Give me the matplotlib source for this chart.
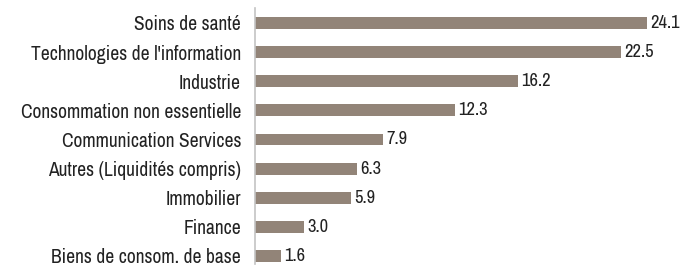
import matplotlib.pyplot as plt
from matplotlib import font_manager

sectors = ["Soins de santé", "Technologies de l'information", "Industrie",
           "Consommation non essentielle", "Communication Services",
           "Autres (Liquidités compris)", "Immobilier", "Finance",
           "Biens de consom. de base"]
weights = [24.1, 22.5, 16.2, 12.3, 7.9, 6.3, 5.9, 3.0, 1.6]

# the reference uses a condensed grotesque; take a narrow face if one exists
names = sorted({f.name for f in font_manager.fontManager.ttflist})
narrow = [n for n in names if "Narrow" in n or "Condensed" in n]
family = narrow[0] if narrow else "Liberation Sans"
plt.rcParams["font.family"] = [family, "DejaVu Sans"]

bar_color = "#928478"
text_color = "#222222"

fig = plt.figure(figsize=(6.82, 2.66), dpi=100)
ax = fig.add_axes([255 / 682, 2 / 266, 427 / 682, 256 / 266])

pos = list(range(len(sectors)))
ax.barh(pos, weights, height=0.41, color=bar_color)

ax.set_xlim(0, 427 / 16.25)
ax.set_ylim(8.275, -0.515)
ax.set_yticks(pos)
ax.set_yticklabels(sectors, fontsize=13, color=text_color)
ax.tick_params(axis="y", length=0, pad=10)
ax.set_xticks([])
for side in ["top", "right", "bottom"]:
    ax.spines[side].set_visible(False)
ax.spines["left"].set_color("#c4c4c4")
ax.spines["left"].set_linewidth(1.2)

# widest label spans about 222 px in the reference
r = fig.canvas.get_renderer()
w = max(t.get_window_extent(r).width for t in ax.get_yticklabels())
size = min(16, 13 * 222 / w)
for t in ax.get_yticklabels():
    t.set_fontsize(size)

for y, v in zip(pos, weights):
    ax.text(v + 0.2, y, f"{v:.1f}", va="center", ha="left",
            fontsize=size * 0.95, color=text_color)

fig.savefig("out.png", dpi=100)
